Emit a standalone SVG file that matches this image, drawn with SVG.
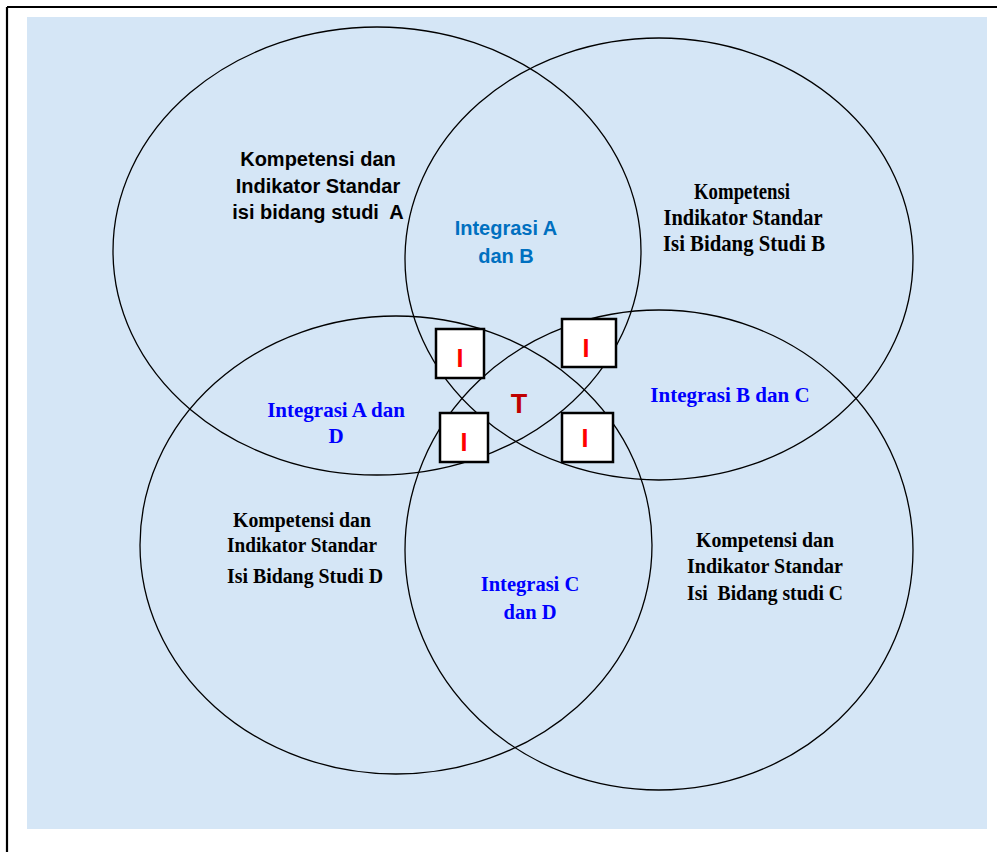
<svg xmlns="http://www.w3.org/2000/svg" width="997" height="852" viewBox="0 0 997 852">
<style>
.ring{fill:none;stroke:#000;stroke-width:1.3}
.box{fill:#fff;stroke:#000;stroke-width:2.5}
.sans{font-family:"Liberation Sans",Arial,sans-serif;font-weight:bold;text-anchor:middle}
.serif{font-family:"Liberation Serif","Times New Roman",serif;font-weight:bold;text-anchor:middle}
.blk{fill:#000}
.blue{fill:#0000ff}
.i{fill:#ff0000;font-size:25px}
</style>
<rect x="0" y="0" width="997" height="852" fill="#fff"/>
<line x1="7" y1="7" x2="997" y2="7" stroke="#000" stroke-width="2.2"/>
<line x1="7" y1="7" x2="7" y2="852" stroke="#000" stroke-width="2.2"/>
<rect x="27" y="17" width="960" height="812" fill="#d5e6f6"/>
<g id="connectors">
<ellipse id="circleA" class="ring" cx="377" cy="251" rx="264" ry="224"/>
<ellipse id="circleB" class="ring" cx="659" cy="259" rx="254" ry="221"/>
<ellipse id="circleD" class="ring" cx="396" cy="545" rx="256" ry="229"/>
<ellipse id="circleC" class="ring" cx="659" cy="550" rx="254" ry="240"/>
</g>
<g id="labelA">
<text class="sans blk" font-size="20" x="318" y="166">Kompetensi dan</text>
<text class="sans blk" font-size="20" x="318" y="193">Indikator Standar</text>
<text class="sans blk" font-size="20" x="318" y="219" xml:space="preserve">isi bidang studi  A</text>
</g>
<g id="labelAB">
<text class="sans" font-size="20" fill="#0070c0" x="506" y="235">Integrasi A</text>
<text class="sans" font-size="20" fill="#0070c0" x="506" y="263">dan B</text>
</g>
<g id="labelB">
<text class="serif blk" font-size="23" x="742" y="199" textLength="96" lengthAdjust="spacingAndGlyphs">Kompetensi</text>
<text class="serif blk" font-size="23" x="743" y="225" textLength="159" lengthAdjust="spacingAndGlyphs">Indikator Standar</text>
<text class="serif blk" font-size="23" x="744" y="251" textLength="162" lengthAdjust="spacingAndGlyphs">Isi Bidang Studi B</text>
</g>
<g id="labelAD">
<text class="serif blue" font-size="21" x="336" y="417">Integrasi A dan</text>
<text class="serif blue" font-size="21" x="336" y="443">D</text>
</g>
<g id="labelBC">
<text class="serif blue" font-size="21" x="730" y="402">Integrasi B dan C</text>
</g>
<g id="labelD">
<text class="serif blk" font-size="20" x="302" y="527" textLength="138" lengthAdjust="spacingAndGlyphs">Kompetensi dan</text>
<text class="serif blk" font-size="20" x="302" y="552" textLength="150" lengthAdjust="spacingAndGlyphs">Indikator Standar</text>
<text class="serif blk" font-size="20" x="305" y="583" textLength="156" lengthAdjust="spacingAndGlyphs">Isi Bidang Studi D</text>
</g>
<g id="labelCD">
<text class="serif blue" font-size="20.5" x="530" y="591">Integrasi C</text>
<text class="serif blue" font-size="20.5" x="530" y="619">dan D</text>
</g>
<g id="labelC">
<text class="serif blk" font-size="21" x="765" y="547" textLength="138" lengthAdjust="spacingAndGlyphs">Kompetensi dan</text>
<text class="serif blk" font-size="21" x="765" y="573" textLength="156" lengthAdjust="spacingAndGlyphs">Indikator Standar</text>
<text class="serif blk" font-size="21" x="765" y="600" textLength="156" lengthAdjust="spacingAndGlyphs" xml:space="preserve">Isi  Bidang studi C</text>
</g>
<g id="box1">
<rect class="box" x="436" y="329" width="48" height="49"/>
<text class="sans i" x="460" y="367">I</text>
</g>
<g id="box2">
<rect class="box" x="562" y="319" width="54" height="48"/>
<text class="sans i" x="586" y="357">I</text>
</g>
<g id="box3">
<rect class="box" x="440" y="413" width="48" height="49"/>
<text class="sans i" x="464" y="451">I</text>
</g>
<g id="box4">
<rect class="box" x="562" y="413" width="51" height="49"/>
<text class="sans i" x="585" y="447" font-size="21">I</text>
</g>
<g id="centerT">
<text class="sans" font-size="27" fill="#c00000" x="519" y="413">T</text>
</g>
</svg>
